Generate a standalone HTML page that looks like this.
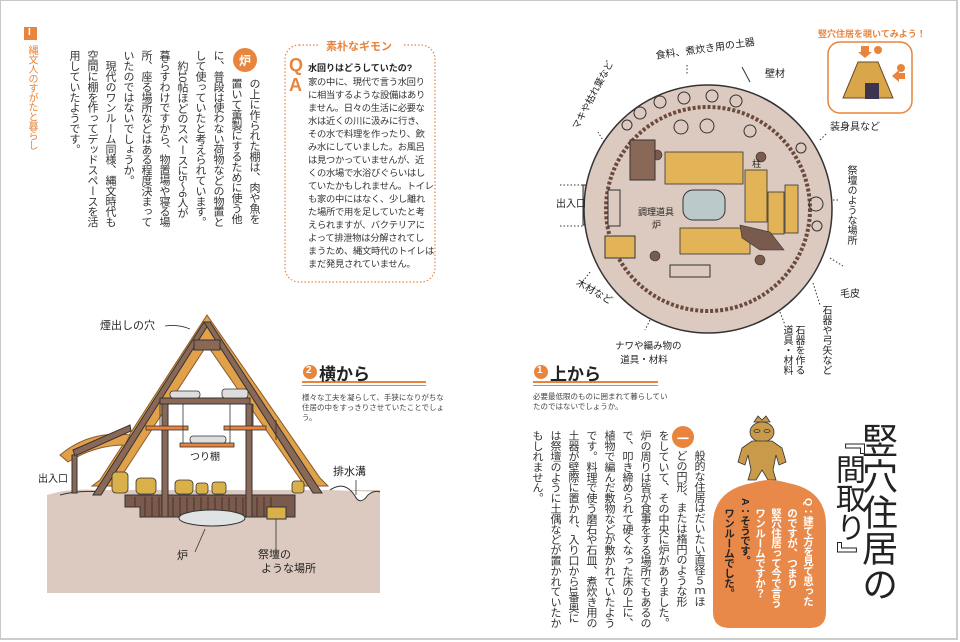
<!DOCTYPE html>
<html><head><meta charset="utf-8">
<style>
*{margin:0;padding:0;box-sizing:border-box}
body{width:960px;height:642px;background:#fff;position:relative;overflow:hidden;font-family:"Liberation Sans","Noto Sans CJK JP",sans-serif;color:#333}
.frame{position:absolute;left:0;top:0;width:958px;height:640px;border:1px solid #c8c8c8;border-right:2px solid #ccc;border-bottom:2px solid #ccc}
.v{position:absolute;writing-mode:vertical-rl;white-space:nowrap}
.abs{position:absolute;white-space:nowrap}
.body{font-size:11px;line-height:18px;color:#333;letter-spacing:-0.6px}
.or{color:#e8843c}
svg{position:absolute;left:0;top:0}
</style></head><body>
<div class="frame"></div>

<svg width="960" height="642" viewBox="0 0 960 642">
  <rect x="24" y="27" width="13" height="13" fill="#e8843c"/>
  <circle cx="245" cy="60" r="12" fill="#e8843c"/>
  <rect x="285" y="45" width="150" height="237" rx="14" fill="none" stroke="#e8843c" stroke-width="1.2" stroke-dasharray="1.5 2"/>
  <rect x="318" y="38" width="84" height="14" fill="#fff"/>

  <path d="M47 495 Q70 488 95 490 L380 490 L380 593 L47 593 Z" fill="#dcc9bf"/>
  <path d="M330 490 Q345 480 355 496 Q360 506 368 495 Q374 490 380 492" fill="#fff" stroke="#333" stroke-width="1"/>
  <path d="M60 495 Q80 490 100 492" fill="none" stroke="#333"/>
  <path d="M125 495 L125 507 L140 507 L140 517 L295 517 L295 495 Z" fill="#7a5a4c" stroke="#333"/>
  <g stroke="#4a3228" stroke-width="1">
    <line x1="135" y1="497" x2="135" y2="507"/><line x1="145" y1="497" x2="145" y2="517"/><line x1="152" y1="497" x2="152" y2="517"/><line x1="159" y1="497" x2="159" y2="517"/><line x1="166" y1="497" x2="166" y2="517"/><line x1="173" y1="497" x2="173" y2="517"/><line x1="180" y1="497" x2="180" y2="517"/><line x1="187" y1="497" x2="187" y2="517"/><line x1="194" y1="497" x2="194" y2="517"/><line x1="201" y1="497" x2="201" y2="517"/><line x1="208" y1="497" x2="208" y2="517"/><line x1="215" y1="497" x2="215" y2="517"/><line x1="222" y1="497" x2="222" y2="517"/><line x1="229" y1="497" x2="229" y2="517"/><line x1="236" y1="497" x2="236" y2="517"/><line x1="243" y1="497" x2="243" y2="517"/><line x1="250" y1="497" x2="250" y2="517"/><line x1="257" y1="497" x2="257" y2="517"/><line x1="264" y1="497" x2="264" y2="517"/><line x1="271" y1="497" x2="271" y2="517"/>
  </g>
  <ellipse cx="212" cy="518" rx="33" ry="8" fill="#dfe3e3" stroke="#333"/>
  <rect x="267" y="507" width="19" height="12" fill="#d9b04a" stroke="#333"/>
  <path d="M207 315 L100 480 L92 486 L115 486 L207 345 L305 486 L328 486 L320 478 Z" fill="#e1a04a" stroke="#8a5a2a" stroke-width="1"/>
  <path d="M60 455 Q90 430 130 435 L125 445 Q95 445 68 462 Z" fill="#e1a04a" stroke="#8a5a2a"/>
  <g stroke="#333" stroke-width="1" fill="#8a6858">
    <polygon points="204,322 210,322 101,495 93,495"/>
    <polygon points="204,322 210,322 322,493 313,493"/>
    <polygon points="73,450 130,425 131,431 75,456"/>
    <rect x="72" y="455" width="5" height="38"/>
    <rect x="160" y="398" width="90" height="6"/>
    <rect x="162" y="404" width="6" height="113"/>
    <rect x="246" y="404" width="6" height="113"/>
    <rect x="194" y="340" width="26" height="10"/>
  </g>
  <g fill="#e8843c" stroke="#333" stroke-width="0.8">
    <rect x="146" y="426" width="42" height="4"/>
    <rect x="224" y="426" width="42" height="4"/>
    <rect x="180" y="443" width="54" height="4"/>
  </g>
  <g stroke="#333" stroke-width="0.8"><line x1="183" y1="404" x2="183" y2="443"/><line x1="230" y1="404" x2="230" y2="443"/><line x1="160" y1="404" x2="160" y2="426"/><line x1="253" y1="404" x2="253" y2="426"/></g>
  <g fill="#d9b04a" stroke="#333" stroke-width="0.8">
    <rect x="112" y="472" width="16" height="21" rx="4"/>
    <rect x="136" y="478" width="20" height="16" rx="4"/>
    <rect x="175" y="480" width="18" height="14" rx="4"/>
    <rect x="196" y="483" width="12" height="11" rx="3"/>
    <rect x="212" y="482" width="14" height="12" rx="3"/>
    <rect x="292" y="481" width="12" height="12" rx="3"/>
  </g>
  <g fill="#ddd" stroke="#333" stroke-width="0.8"><rect x="170" y="391" width="30" height="7" rx="3"/><rect x="222" y="389" width="26" height="9" rx="3"/><rect x="190" y="436" width="36" height="7" rx="3"/></g>
  <g stroke="#333" stroke-width="0.8" fill="none">
    <path d="M165 326 Q178 324 190 329"/>
    <line x1="276" y1="420" x2="276" y2="440"/>
    <line x1="205" y1="529" x2="195" y2="552"/>
    <line x1="276" y1="519" x2="276" y2="555"/>
    <line x1="356" y1="480" x2="356" y2="495"/>
  </g>

  <rect x="302" y="381" width="124" height="2" fill="#e8843c"/><rect x="302" y="385" width="124" height="1" fill="#e8843c"/>
  <rect x="533" y="381" width="125" height="2" fill="#e8843c"/><rect x="533" y="385" width="125" height="1" fill="#e8843c"/>
  <circle cx="310" cy="372" r="7" fill="#e8843c"/>
  <circle cx="541" cy="372" r="7" fill="#e8843c"/>

  <rect x="583" y="185" width="42" height="40" fill="#dcc9bf" stroke="#333"/>
  <circle cx="708" cy="209" r="124" fill="#dcc9bf" stroke="#333" stroke-width="1.5"/>
  <circle cx="708" cy="209" r="102" fill="#dcc9bf" stroke="#6b4a3e" stroke-width="4" stroke-dasharray="3 2"/>
  <rect x="608" y="190" width="12" height="36" fill="#dcc9bf" stroke="#333"/>
  <g fill="#e3b457" stroke="#333" stroke-width="0.8">
    <rect x="665" y="152" width="78" height="32"/>
    <rect x="745" y="170" width="22" height="52"/>
    <rect x="768" y="192" width="16" height="42"/>
    <rect x="785" y="185" width="13" height="48"/>
    <rect x="680" y="228" width="70" height="26"/>
  </g>
  <rect x="683" y="190" width="42" height="30" rx="10" fill="#bcc9cb" stroke="#333"/>
  <g fill="#7a5a4c" stroke="#333" stroke-width="0.6">
    <circle cx="657" cy="155" r="5"/><circle cx="761" cy="157" r="5"/><circle cx="655" cy="256" r="5"/><circle cx="760" cy="260" r="5"/>
    <path d="M740 225 L770 232 L784 250 L760 250 L742 238 Z"/>
  </g>
  <g fill="none" stroke="#333" stroke-width="1">
    <circle cx="627" cy="125" r="5"/><circle cx="640" cy="113" r="6"/><circle cx="660" cy="102" r="6"/><circle cx="684" cy="98" r="6"/><circle cx="712" cy="96" r="6"/><circle cx="736" cy="101" r="6"/>
    <circle cx="681" cy="127" r="7"/><circle cx="707" cy="126" r="7"/><circle cx="750" cy="131" r="6"/>
    <circle cx="816" cy="204" r="7"/><circle cx="817" cy="226" r="5"/><circle cx="801" cy="148" r="5"/>
    <rect x="630" y="140" width="25" height="40" fill="#8a6858"/>
    <rect x="605" y="236" width="30" height="22" fill="#e3b457"/>
    <rect x="670" y="265" width="40" height="12"/>
  </g>
  <g stroke="#333" stroke-width="1" stroke-dasharray="1.5 2">
    <line x1="560" y1="185" x2="583" y2="185"/><line x1="560" y1="226" x2="583" y2="226"/>
    <line x1="687" y1="65" x2="687" y2="75"/><line x1="604" y1="142" x2="598" y2="132"/>
    <line x1="820" y1="140" x2="827" y2="133"/><line x1="833" y1="200" x2="840" y2="200"/>
    <line x1="830" y1="258" x2="843" y2="266"/><line x1="813" y1="283" x2="820" y2="305"/>
    <line x1="780" y1="312" x2="785" y2="325"/><line x1="650" y1="320" x2="645" y2="330"/><line x1="590" y1="272" x2="584" y2="280"/>
  </g>
  <line x1="742" y1="67" x2="750" y2="82" stroke="#333"/>

  <rect x="828" y="42" width="84" height="71" rx="12" fill="#fff" stroke="#e8843c" stroke-width="1.5"/>
  <path d="M858 62 L878 62 L893 98 L843 98 Z" fill="#d9a64a" stroke="#6a4a2a"/>
  <rect x="865" y="83" width="14" height="16" fill="#3d3550"/>
  <path d="M861 46 L869 46 L869 52 L872 52 L865 58 L858 52 L861 52 Z" fill="#e8843c"/>
  <path d="M905 73 L905 79 L899 79 L899 82 L892 76 L899 70 L899 73 Z" fill="#e8843c"/>
  <circle cx="878" cy="50" r="4" fill="#e8843c"/><circle cx="901" cy="68" r="4" fill="#e8843c"/>

  <g fill="#c89a4a" stroke="#333" stroke-width="0.8">
    <path d="M754 422 L758 416 L762 420 L766 416 L770 422 Z"/>
    <ellipse cx="762" cy="432" rx="12" ry="10"/>
    <path d="M752 441 L772 441 L782 448 L786 462 L779 465 L776 455 L773 470 L776 480 L768 480 L762 470 L756 480 L748 480 L751 470 L748 455 L745 465 L738 462 L742 448 Z"/>
  </g>
  <g stroke="#333" fill="none" stroke-width="0.8"><ellipse cx="757" cy="431" rx="3" ry="1.5"/><ellipse cx="767" cy="431" rx="3" ry="1.5"/></g>
  <path d="M770 480 Q762 480 752 483 Q713 490 713 525 L713 612 Q713 628 730 628 L810 628 Q826 628 826 612 L826 525 Q826 490 788 483 Q778 480 770 480 Z" fill="#e8894a"/>
  <circle cx="683" cy="437" r="11" fill="#e8843c"/>
</svg>

<div class="abs" style="left:28px;top:27px;font-size:10px;color:#fff;font-weight:bold">I</div>
<div class="v or" style="left:24px;top:45px;font-size:10px;letter-spacing:-0.5px">縄文人のすがたと暮らし</div>

<div class="abs" style="left:239px;top:52px;font-size:12px;color:#fff;font-weight:bold">炉</div>
<div class="v body" style="right:697px;top:50px;height:190px">
<span style="display:block;padding-top:28px">の上に作られた棚は、肉や魚を</span><span style="display:block;padding-top:28px">置いて薫製にするために使う他</span>に、普段は使わない荷物などの物置と<br>して使っていたと考えられています。<br>　約10帖ほどのスペースに5～6人が<br>暮らすわけですから、物置場や寝る場<br>所、座る場所などはある程度決まって<br>いたのではないでしょうか。<br>　現代のワンルーム同様、縄文時代も<br>空間に棚を作ってデッドスペースを活<br>用していたようです。
</div>

<div class="abs or" style="left:326px;top:38px;font-size:11px;font-weight:bold">素朴なギモン</div>
<div class="abs or" style="left:289px;top:55px;font-size:18px;font-weight:bold;line-height:20px">Q<br>A</div>
<div class="abs" style="left:308px;top:61px;font-size:9px;font-weight:bold;color:#222">水回りはどうしていたの?</div>
<div class="abs" style="left:308px;top:76px;font-size:9.3px;line-height:13px;color:#333;letter-spacing:-0.3px">家の中に、現代で言う水回り<br>に相当するような設備はあり<br>ません。日々の生活に必要な<br>水は近くの川に汲みに行き、<br>その水で料理を作ったり、飲<br>み水にしていました。お風呂<br>は見つかっていませんが、近<br>くの水場で水浴びぐらいはし<br>ていたかもしれません。トイレ<br>も家の中にはなく、少し離れ<br>た場所で用を足していたと考<br>えられますが、バクテリアに<br>よって排泄物は分解されてし<br>まうため、縄文時代のトイレは<br>まだ発見されていません。</div>

<div class="abs" style="left:100px;top:317px;font-size:11px;color:#222">煙出しの穴</div>
<div class="abs" style="left:190px;top:448px;font-size:10px;color:#222">つり棚</div>
<div class="abs" style="left:38px;top:470px;font-size:10px;color:#222">出入口</div>
<div class="abs" style="left:333px;top:463px;font-size:11px;color:#222">排水溝</div>
<div class="abs" style="left:177px;top:547px;font-size:11px;color:#222">炉</div>
<div class="abs" style="left:258px;top:548px;font-size:11px;color:#222;line-height:14px">祭壇の<br>&nbsp;ような場所</div>

<div class="abs" style="left:306px;top:365px;font-size:10px;color:#fff;font-weight:bold">2</div>
<div class="abs" style="left:319px;top:360px;font-size:17px;font-weight:bold;color:#222">横から</div>
<div class="abs" style="left:302px;top:393px;font-size:7.5px;line-height:10px;color:#444">様々な工夫を凝らして、手狭になりがちな<br>住居の中をすっきりさせていたことでしょ<br>う。</div>
<div class="abs" style="left:537px;top:365px;font-size:10px;color:#fff;font-weight:bold">1</div>
<div class="abs" style="left:550px;top:360px;font-size:17px;font-weight:bold;color:#222">上から</div>
<div class="abs" style="left:533px;top:392px;font-size:7.5px;line-height:10px;color:#444">必要最低限のものに囲まれて暮らしてい<br>たのではないでしょうか。</div>

<div class="abs" style="left:655px;top:40px;font-size:10px;color:#222;transform:rotate(-8deg)">食料、煮炊き用の土器</div>
<div class="abs" style="left:765px;top:65px;font-size:10px;color:#222">壁材</div>
<div class="abs" style="left:556px;top:195px;font-size:10px;color:#222">出入口</div>
<div class="abs" style="left:638px;top:205px;font-size:9px;color:#222">調理道具</div>
<div class="abs" style="left:652px;top:218px;font-size:9px;color:#222">炉</div>
<div class="abs" style="left:752px;top:157px;font-size:9px;color:#222">柱</div>
<div class="abs" style="left:830px;top:118px;font-size:10px;color:#222">装身具など</div>
<div class="abs" style="left:840px;top:285px;font-size:10px;color:#222">毛皮</div>
<div class="abs" style="left:575px;top:283px;font-size:10px;color:#222;transform:rotate(30deg)">木材など</div>
<div class="abs" style="left:615px;top:338px;font-size:9.5px;color:#222">ナワや編み物の<br>&nbsp;&nbsp;道具・材料</div>
<div class="abs" style="left:568px;top:125px;font-size:9.5px;color:#222;transform:rotate(-62deg);transform-origin:left top">マキや枯れ葉など</div>
<div class="v" style="left:843px;top:165px;font-size:10px;color:#222">祭壇のような場所</div>
<div class="v" style="left:818px;top:305px;font-size:10px;color:#222">石器や弓矢など</div>
<div class="v" style="left:780px;top:325px;font-size:10px;color:#222;line-height:12px">石器を作る<br>道具・材料</div>
<div class="abs or" style="left:818px;top:27px;font-size:9px;font-weight:bold">竪穴住居を覗いてみよう！</div>

<div class="abs" style="left:677px;top:430px;font-size:12px;color:#fff;font-weight:bold">一</div>
<div class="v body" style="right:252px;top:430px;height:200px">
<span style="display:block;padding-top:20px">般的な住居はだいたい直径５ｍほ</span><span style="display:block;padding-top:20px">どの円形、または楕円のような形</span>をしていて、その中央に炉がありました。<br>炉の周りは皆が食事をする場所でもあるの<br>で、叩き締められて硬くなった床の上に、<br>植物で編んだ敷物などが敷かれていたよう<br>です。料理で使う磨石や石皿、煮炊き用の<br>土器が壁際に置かれ、入り口から1番奥に<br>は祭壇のように土偶などが置かれていたか<br>もしれません。
</div>

<div class="v" style="left:856px;top:422px;font-size:36px;line-height:42px;color:#222;font-weight:normal">竪穴住居の</div>
<div class="v" style="left:830px;top:425px;font-size:30px;line-height:34px;color:#222;font-weight:normal;letter-spacing:-1px">『間取り』</div>

<div class="v" style="left:752px;top:498px;font-size:10.5px;line-height:16px;color:#fff;font-weight:bold;letter-spacing:-0.5px">Q：建て方を見て思った<br>　のですが、つまり<br>　竪穴住居って今で言う<br>　ワンルームですか？</div>
<div class="v" style="left:721px;top:498px;font-size:10.5px;line-height:16px;color:#222;font-weight:bold;letter-spacing:-0.5px">A：そうです。<br>　ワンルームでした。</div>
</body></html>
